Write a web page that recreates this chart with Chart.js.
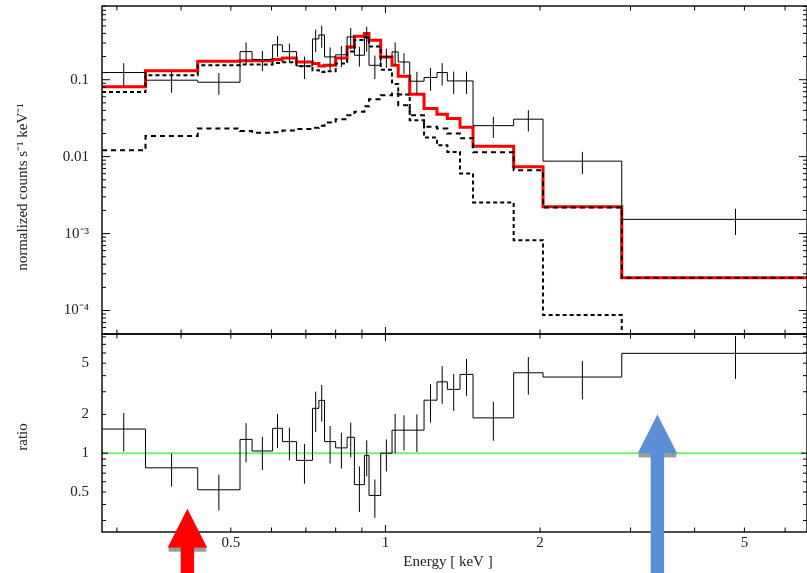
<!DOCTYPE html>
<html>
<head>
<meta charset="utf-8">
<title>Spectrum and ratio</title>
<script src="https://cdn.jsdelivr.net/npm/chart.js@4.4.1/dist/chart.umd.min.js"></script>
<style>
  html, body { margin: 0; padding: 0; background: #fff; overflow: hidden; }
  #wrap { position: relative; width: 807px; height: 573px; }
  #wrap canvas { position: absolute; left: 0; top: 0; }
</style>
</head>
<body>
<div id="wrap">
  <canvas id="specChart" width="807" height="573"></canvas>
  <canvas id="ratioChart" width="807" height="573"></canvas>
</div>
<script>
// energy bin edges (keV), shared by both panels
const binEdges = [0.2806, 0.341, 0.431, 0.521, 0.550, 0.603, 0.630, 0.671, 0.721, 0.742,
                  0.761, 0.800, 0.842, 0.870, 0.910, 0.929, 0.979, 1.030, 1.059, 1.115,
                  1.189, 1.260, 1.320, 1.397, 1.481, 1.777, 2.027, 2.885, 8.0];

// folded spectrum (normalized counts s^-1 keV^-1) and 1-sigma errors
const countsData = [0.124, 0.0986, 0.0928, 0.232, 0.183, 0.284, 0.232, 0.151, 0.339, 0.382,
                    0.198, 0.211, 0.360, 0.208, 0.360, 0.154, 0.198, 0.230, 0.170, 0.0956,
                    0.107, 0.124, 0.0965, 0.0965, 0.0253, 0.0307, 0.00874, 0.00153];
const countsErr = [0.040, 0.031, 0.029, 0.073, 0.053, 0.085, 0.063, 0.049, 0.110, 0.122,
                   0.065, 0.065, 0.110, 0.060, 0.128, 0.052, 0.055, 0.076, 0.051, 0.031,
                   0.035, 0.040, 0.031, 0.031, 0.0078, 0.0095, 0.0028, 0.00057];

// folded model: total and its two additive components
const modelTotal = [0.0811, 0.131, 0.174, 0.1765, 0.1765, 0.183, 0.192, 0.170, 0.162, 0.151,
                    0.154, 0.192, 0.267, 0.367, 0.398, 0.326, 0.198, 0.154, 0.111, 0.0648,
                    0.0423, 0.0357, 0.0313, 0.0242, 0.0137, 0.00737, 0.00223, 0.000267];
const modelSoft = [0.0694, 0.114, 0.154, 0.1575, 0.1575, 0.165, 0.169, 0.150, 0.133, 0.126,
                   0.129, 0.162, 0.232, 0.329, 0.353, 0.270, 0.135, 0.0881, 0.0644, 0.0298,
                   0.0177, 0.0141, 0.0115, 0.00605, 0.00254, 0.00082, 0.0000874, 1e-7];
const modelHard = [0.01215, 0.0185, 0.0232, 0.0215, 0.0204, 0.0208, 0.0218, 0.0228, 0.0238, 0.0253,
                   0.0277, 0.0307, 0.0346, 0.0384, 0.0453, 0.0558, 0.0629, 0.0662, 0.0466, 0.0346,
                   0.0244, 0.0232, 0.0200, 0.0174, 0.0114, 0.00668, 0.00219, 0.000267];

// data / model ratio
const ratioData = [1.54, 0.77, 0.52, 1.28, 1.04, 1.56, 1.23, 0.88, 2.23, 2.57,
                   1.23, 1.10, 1.33, 0.57, 0.96, 0.47, 1.00, 1.51, 1.51, 1.51,
                   2.58, 3.58, 3.13, 4.09, 1.88, 4.21, 3.90, 5.96];
const ratioErr = [0.51, 0.22, 0.16, 0.43, 0.30, 0.46, 0.35, 0.30, 0.77, 0.81,
                  0.40, 0.34, 0.40, 0.22, 0.30, 0.155, 0.28, 0.51, 0.46, 0.49,
                  0.85, 1.16, 1.00, 1.30, 0.63, 1.36, 1.28, 2.18];

// axis ranges
const energyRange = [0.2806, 6.62];
const countsRange = [4.95e-5, 0.9087];
const ratioRange = [0.2445, 8.42];

// labelled ticks
const energyTicks = [0.5, 1, 2, 5];
const energyTickLabels = ['0.5', '1', '2', '5'];
const countsTicks = [1e-4, 1e-3, 0.01, 0.1];
const countsTickLabels = ['10\u207B\u2074', '10\u207B\u00B3', '0.01', '0.1'];
const ratioTicks = [0.5, 1, 2, 5];
const ratioTickLabels = ['0.5', '1', '2', '5'];

// energies marked with arrows, and the ratio where each arrow tip sits
const arrowEnergy = [0.4115, 3.385];
const arrowTipRatio = [0.371, 2.0];

const serif = 'Liberation Serif';
const textColour = '#222';

// histogram outline: one point per lower edge plus the final upper edge
function stepPoints(values) {
    const pts = values.map((v, i) => ({ x: binEdges[i], y: v }));
    pts.push({ x: binEdges[values.length], y: values[values.length - 1] });
    return pts;
}

// vertical error bars at the logarithmic bin centres, broken by null points
function errorBarPoints(values, errs) {
    const pts = [];
    values.forEach((v, i) => {
        const xc = Math.sqrt(binEdges[i] * binEdges[i + 1]);
        pts.push({ x: xc, y: v - errs[i] }, { x: xc, y: v + errs[i] }, { x: xc, y: null });
    });
    return pts;
}

// d * 10^k tick positions between lo and hi
function logTickValues(lo, hi) {
    const out = [];
    for (let k = Math.floor(Math.log10(lo)); k <= Math.ceil(Math.log10(hi)); k++) {
        for (let d = 1; d < 10; d++) {
            const v = d * Math.pow(10, k);
            if (v >= lo && v <= hi) out.push(v);
        }
    }
    return out;
}

function isDecade(v) {
    const l = Math.log10(v);
    return Math.abs(l - Math.round(l)) < 1e-6;
}

// box round the plot with inward tick marks on all four sides
const frameTicks = {
    id: 'frameTicks',
    afterDraw(chart, args, opts) {
        const { ctx, chartArea: a, scales: { x, y } } = chart;
        ctx.save();
        ctx.strokeStyle = '#000';
        ctx.lineWidth = 1;
        ctx.beginPath();
        logTickValues(x.min, x.max).forEach(v => {
            const px = x.getPixelForValue(v);
            const len = isDecade(v) ? 7 : 4.5;
            ctx.moveTo(px, a.top); ctx.lineTo(px, a.top + len);
            ctx.moveTo(px, a.bottom); ctx.lineTo(px, a.bottom - len);
        });
        logTickValues(y.min, y.max).forEach(v => {
            const py = y.getPixelForValue(v);
            const len = isDecade(v) ? opts.majorLen : 4;
            ctx.moveTo(a.left, py); ctx.lineTo(a.left + len, py);
            ctx.moveTo(a.right, py); ctx.lineTo(a.right - len, py);
        });
        ctx.stroke();
        ctx.lineWidth = 1.4;
        ctx.strokeRect(a.left, a.top, a.right - a.left, a.bottom - a.top);
        ctx.restore();
    }
};

// axis titles
const axisTitles = {
    id: 'axisTitles',
    afterDraw(chart, args, opts) {
        const ctx = chart.ctx;
        ctx.save();
        ctx.fillStyle = textColour;
        ctx.font = '15px "' + serif + '"';
        ctx.textAlign = 'center';
        ctx.textBaseline = 'middle';
        opts.items.forEach(t => {
            ctx.save();
            ctx.translate(t.x, t.y);
            if (t.vertical) ctx.rotate(-Math.PI / 2);
            ctx.fillText(t.text, 0, 0);
            ctx.restore();
        });
        ctx.restore();
    }
};

// upward arrows marking energies, drawn over the ratio panel
const arrowMarks = {
    id: 'arrowMarks',
    afterDraw(chart) {
        const { ctx, scales: { x, y } } = chart;
        const colours = ['#ff0000', '#5a8fd8'];
        const headLen = 39, headHalf = 19.8, shaftHalf = 6.7;
        arrowEnergy.forEach((e, i) => {
            const tx = x.getPixelForValue(e);
            const ty = y.getPixelForValue(arrowTipRatio[i]);
            const baseY = ty + headLen;
            ctx.save();
            ctx.fillStyle = '#9a9a9a';
            ctx.fillRect(tx - headHalf + 1, baseY, 2 * headHalf - 2, 4);
            ctx.fillStyle = colours[i];
            ctx.fillRect(tx - shaftHalf, baseY - 1, 2 * shaftHalf, chart.height - baseY + 1);
            ctx.beginPath();
            ctx.moveTo(tx, ty);
            ctx.lineTo(tx + headHalf, baseY);
            ctx.lineTo(tx - headHalf, baseY);
            ctx.closePath();
            ctx.fill();
            ctx.restore();
        });
    }
};

function fixedAxis(size, horizontal) {
    return function (scale) {
        if (horizontal) scale.height = size; else scale.width = size;
        scale.paddingTop = 0;
        scale.paddingBottom = 0;
        scale.paddingLeft = 0;
        scale.paddingRight = 0;
    };
}

document.addEventListener("DOMContentLoaded", function() {
    const tickFont = { family: serif, size: 15 };

    // Spectrum panel
    const ctxSpec = document.getElementById('specChart').getContext('2d');
    new Chart(ctxSpec, {
        type: 'line',
        data: {
            datasets: [
                { label: 'data', data: stepPoints(countsData), stepped: true,
                  borderColor: '#000', borderWidth: 1, pointRadius: 0, order: 0 },
                { label: 'data errors', data: errorBarPoints(countsData, countsErr),
                  borderColor: '#000', borderWidth: 1, pointRadius: 0, spanGaps: false, order: 0 },
                { label: 'hard component', data: stepPoints(modelHard), stepped: true,
                  borderColor: '#000', borderWidth: 2, borderDash: [5, 4], pointRadius: 0, order: 1 },
                { label: 'soft component', data: stepPoints(modelSoft), stepped: true,
                  borderColor: '#000', borderWidth: 2, borderDash: [4, 3], pointRadius: 0, order: 1 },
                { label: 'model', data: stepPoints(modelTotal), stepped: true,
                  borderColor: '#ff0000', borderWidth: 3, pointRadius: 0, order: 2 }
            ]
        },
        options: {
            responsive: false,
            animation: false,
            events: [],
            layout: { padding: { top: 6, bottom: 239, left: 0, right: 0 } },
            plugins: {
                legend: { display: false },
                tooltip: { enabled: false },
                frameTicks: { majorLen: 8 },
                axisTitles: { items: [
                    { text: 'normalized counts s\u207B\u00B9 keV\u207B\u00B9', x: 23, y: 187, vertical: true }
                ] }
            },
            scales: {
                x: { type: 'logarithmic', min: energyRange[0], max: energyRange[1], display: false },
                y: {
                    type: 'logarithmic', min: countsRange[0], max: countsRange[1],
                    afterFit: fixedAxis(102, false),
                    afterBuildTicks: s => { s.ticks = countsTicks.map(v => ({ value: v })); },
                    ticks: { callback: (v, i) => countsTickLabels[i], font: tickFont,
                             color: textColour, padding: 13, autoSkip: false },
                    grid: { display: false, drawTicks: false },
                    border: { display: false }
                }
            }
        },
        plugins: [frameTicks, axisTitles]
    });

    // Ratio panel
    const ctxRatio = document.getElementById('ratioChart').getContext('2d');
    new Chart(ctxRatio, {
        type: 'line',
        data: {
            datasets: [
                { label: 'ratio', data: stepPoints(ratioData), stepped: true,
                  borderColor: '#000', borderWidth: 1, pointRadius: 0, order: 0 },
                { label: 'ratio errors', data: errorBarPoints(ratioData, ratioErr),
                  borderColor: '#000', borderWidth: 1, pointRadius: 0, spanGaps: false, order: 0 },
                { label: 'unity', data: [{ x: energyRange[0], y: 1 }, { x: binEdges[binEdges.length - 1], y: 1 }],
                  borderColor: '#77ee77', borderWidth: 2, pointRadius: 0, order: 1 }
            ]
        },
        options: {
            responsive: false,
            animation: false,
            events: [],
            layout: { padding: { top: 334, bottom: 0, left: 0, right: 0 } },
            plugins: {
                legend: { display: false },
                tooltip: { enabled: false },
                frameTicks: { majorLen: 6 },
                axisTitles: { items: [
                    { text: 'ratio', x: 23, y: 437, vertical: true },
                    { text: 'Energy [ keV ]', x: 448, y: 562, vertical: false }
                ] }
            },
            scales: {
                x: {
                    type: 'logarithmic', min: energyRange[0], max: energyRange[1],
                    afterFit: fixedAxis(41, true),
                    afterBuildTicks: s => { s.ticks = energyTicks.map(v => ({ value: v })); },
                    ticks: { callback: (v, i) => energyTickLabels[i], font: tickFont,
                             color: textColour, padding: 2, autoSkip: false, maxRotation: 0 },
                    grid: { display: false, drawTicks: false },
                    border: { display: false }
                },
                y: {
                    type: 'logarithmic', min: ratioRange[0], max: ratioRange[1],
                    afterFit: fixedAxis(102, false),
                    afterBuildTicks: s => { s.ticks = ratioTicks.map(v => ({ value: v })); },
                    ticks: { callback: (v, i) => ratioTickLabels[i], font: tickFont,
                             color: textColour, padding: 13, autoSkip: false },
                    grid: { display: false, drawTicks: false },
                    border: { display: false }
                }
            }
        },
        plugins: [frameTicks, axisTitles, arrowMarks]
    });
});
</script>
</body>
</html>
